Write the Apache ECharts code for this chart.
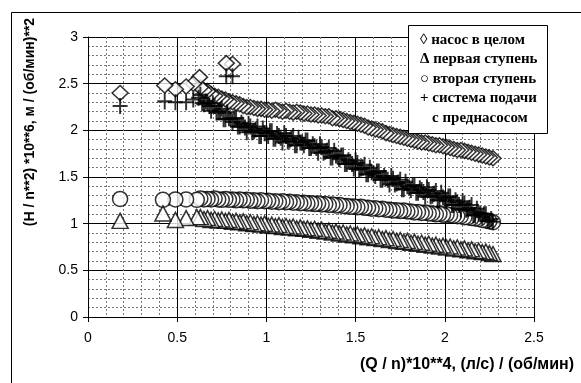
<!DOCTYPE html>
<html>
<head>
<meta charset="utf-8">
<script src="https://cdn.jsdelivr.net/npm/echarts@6/dist/echarts.min.js"></script>
<style>
html, body { margin: 0; padding: 0; background: #fff; }
#chart { width: 581px; height: 383px; }
</style>
</head>
<body>
<div id="chart"></div>
<script>
var myChart = echarts.init(document.getElementById('chart'));

// насос в целом (diamonds)
var pumpTotal = [
    [0.18, 2.40], [0.43, 2.48], [0.49, 2.44], [0.55, 2.47], [0.59, 2.50], [0.625, 2.57],
    [0.775, 2.72], [0.81, 2.71],
    [0.63, 2.46], [0.65, 2.43], [0.67, 2.42], [0.69, 2.39], [0.71, 2.37], [0.73, 2.36],
    [0.75, 2.34], [0.77, 2.33], [0.79, 2.31], [0.81, 2.30], [0.83, 2.29], [0.85, 2.28],
    [0.87, 2.26], [0.89, 2.25], [0.91, 2.25], [0.93, 2.24], [0.95, 2.23], [0.97, 2.23],
    [0.99, 2.22], [1.01, 2.22], [1.03, 2.21], [1.05, 2.22], [1.07, 2.21], [1.09, 2.20],
    [1.11, 2.21], [1.13, 2.20], [1.15, 2.19], [1.17, 2.20], [1.19, 2.19], [1.21, 2.18],
    [1.23, 2.18], [1.25, 2.17], [1.27, 2.17], [1.29, 2.16], [1.31, 2.16], [1.33, 2.15],
    [1.35, 2.15], [1.37, 2.13], [1.39, 2.13], [1.41, 2.12], [1.43, 2.11], [1.45, 2.10],
    [1.47, 2.09], [1.49, 2.08], [1.51, 2.07], [1.53, 2.06], [1.55, 2.05], [1.57, 2.03],
    [1.59, 2.02], [1.61, 2.01], [1.63, 2.00], [1.65, 1.99], [1.67, 1.97], [1.69, 1.96],
    [1.71, 1.95], [1.73, 1.94], [1.75, 1.93], [1.77, 1.92], [1.79, 1.91], [1.81, 1.90],
    [1.83, 1.89], [1.85, 1.88], [1.87, 1.87], [1.89, 1.87], [1.91, 1.86], [1.93, 1.85],
    [1.95, 1.84], [1.97, 1.84], [1.99, 1.83], [2.01, 1.82], [2.03, 1.81], [2.05, 1.80],
    [2.07, 1.79], [2.09, 1.79], [2.11, 1.78], [2.13, 1.77], [2.15, 1.76], [2.17, 1.75],
    [2.19, 1.74], [2.21, 1.73], [2.23, 1.72], [2.25, 1.71], [2.27, 1.70]
];

// первая ступень (triangles)
var firstStage = [
    [0.18, 1.03], [0.42, 1.11], [0.49, 1.04], [0.55, 1.06], [0.61, 1.07],
    [0.63, 1.07], [0.65, 1.05], [0.67, 1.06], [0.69, 1.04], [0.71, 1.05], [0.73, 1.035],
    [0.75, 1.045], [0.77, 1.03], [0.79, 1.04], [0.81, 1.02], [0.83, 1.03], [0.85, 1.015],
    [0.87, 1.025], [0.89, 1.005], [0.91, 1.015], [0.93, 0.995], [0.95, 1.005], [0.97, 0.99],
    [0.99, 1.00], [1.01, 0.98], [1.03, 0.99], [1.05, 0.975], [1.07, 0.985], [1.09, 0.965],
    [1.11, 0.975], [1.13, 0.96], [1.15, 0.97], [1.17, 0.95], [1.19, 0.96], [1.21, 0.945],
    [1.23, 0.95], [1.25, 0.935], [1.27, 0.945], [1.29, 0.925], [1.31, 0.935], [1.33, 0.915],
    [1.35, 0.925], [1.37, 0.905], [1.39, 0.915], [1.41, 0.895], [1.43, 0.905], [1.45, 0.885],
    [1.47, 0.895], [1.49, 0.875], [1.51, 0.885], [1.53, 0.865], [1.55, 0.875], [1.57, 0.855],
    [1.59, 0.865], [1.61, 0.845], [1.63, 0.855], [1.65, 0.835], [1.67, 0.845], [1.69, 0.825],
    [1.71, 0.835], [1.73, 0.815], [1.75, 0.825], [1.77, 0.805], [1.79, 0.815], [1.81, 0.795],
    [1.83, 0.805], [1.85, 0.785], [1.87, 0.795], [1.89, 0.775], [1.91, 0.785], [1.93, 0.765],
    [1.95, 0.775], [1.97, 0.755], [1.99, 0.765], [2.01, 0.745], [2.03, 0.755], [2.05, 0.735],
    [2.07, 0.745], [2.09, 0.725], [2.11, 0.735], [2.13, 0.715], [2.15, 0.725], [2.17, 0.705],
    [2.19, 0.71], [2.21, 0.695], [2.23, 0.70], [2.25, 0.685], [2.27, 0.675]
];

// вторая ступень (circles)
var secondStage = [
    [0.18, 1.265], [0.42, 1.255], [0.49, 1.26], [0.55, 1.26], [0.61, 1.255],
    [0.63, 1.27], [0.65, 1.26], [0.67, 1.265], [0.69, 1.26], [0.71, 1.27], [0.73, 1.26],
    [0.75, 1.255], [0.77, 1.265], [0.79, 1.255], [0.81, 1.26], [0.83, 1.25], [0.85, 1.26],
    [0.87, 1.25], [0.89, 1.255], [0.91, 1.245], [0.93, 1.25], [0.95, 1.24], [0.97, 1.25],
    [0.99, 1.24], [1.01, 1.245], [1.03, 1.235], [1.05, 1.24], [1.07, 1.23], [1.09, 1.24],
    [1.11, 1.23], [1.13, 1.235], [1.15, 1.225], [1.17, 1.23], [1.19, 1.22], [1.21, 1.225],
    [1.23, 1.215], [1.25, 1.22], [1.27, 1.21], [1.29, 1.215], [1.31, 1.205], [1.33, 1.21],
    [1.35, 1.20], [1.37, 1.205], [1.39, 1.195], [1.41, 1.20], [1.43, 1.19], [1.45, 1.19],
    [1.47, 1.18], [1.49, 1.185], [1.51, 1.175], [1.53, 1.18], [1.55, 1.17], [1.57, 1.17],
    [1.59, 1.16], [1.61, 1.165], [1.63, 1.155], [1.65, 1.16], [1.67, 1.15], [1.69, 1.15],
    [1.71, 1.14], [1.73, 1.145], [1.75, 1.135], [1.77, 1.14], [1.79, 1.13], [1.81, 1.13],
    [1.83, 1.12], [1.85, 1.125], [1.87, 1.115], [1.89, 1.12], [1.91, 1.11], [1.93, 1.11],
    [1.95, 1.10], [1.97, 1.105], [1.99, 1.095], [2.01, 1.10], [2.03, 1.09], [2.05, 1.085],
    [2.07, 1.08], [2.09, 1.08], [2.11, 1.07], [2.13, 1.07], [2.15, 1.06], [2.17, 1.055],
    [2.19, 1.05], [2.21, 1.04], [2.23, 1.035], [2.25, 1.025], [2.27, 1.015]
];

// система подачи с преднасосом (plus)
var feedSystem = [
    [0.18, 2.26], [0.43, 2.31], [0.49, 2.30], [0.55, 2.30], [0.59, 2.33], [0.62, 2.35],
    [0.775, 2.58], [0.81, 2.58],
    [0.63, 2.38], [0.65, 2.28], [0.67, 2.29], [0.69, 2.21], [0.71, 2.26], [0.73, 2.20],
    [0.75, 2.23], [0.77, 2.12], [0.79, 2.13], [0.81, 2.09], [0.83, 2.13], [0.85, 2.04],
    [0.87, 2.06], [0.89, 1.98], [0.91, 2.04], [0.93, 1.99], [0.95, 2.04], [0.97, 1.94],
    [0.99, 1.97], [1.01, 1.94], [1.03, 1.99], [1.05, 1.91], [1.07, 1.94], [1.09, 1.87],
    [1.11, 1.94], [1.13, 1.89], [1.15, 1.94], [1.17, 1.84], [1.19, 1.87], [1.21, 1.84],
    [1.23, 1.89], [1.25, 1.81], [1.27, 1.83], [1.29, 1.76], [1.31, 1.82], [1.33, 1.77],
    [1.35, 1.81], [1.37, 1.71], [1.39, 1.73], [1.41, 1.69], [1.43, 1.73], [1.45, 1.64],
    [1.47, 1.66], [1.49, 1.59], [1.51, 1.65], [1.53, 1.59], [1.55, 1.63], [1.57, 1.53],
    [1.59, 1.55], [1.61, 1.51], [1.63, 1.56], [1.65, 1.47], [1.67, 1.49], [1.69, 1.42],
    [1.71, 1.48], [1.73, 1.43], [1.75, 1.47], [1.77, 1.37], [1.79, 1.40], [1.81, 1.36],
    [1.83, 1.41], [1.85, 1.33], [1.87, 1.36], [1.89, 1.29], [1.91, 1.36], [1.93, 1.30],
    [1.95, 1.35], [1.97, 1.25], [1.99, 1.28], [2.01, 1.24], [2.03, 1.29], [2.05, 1.20],
    [2.07, 1.23], [2.09, 1.15], [2.11, 1.21], [2.13, 1.16], [2.15, 1.20], [2.17, 1.09],
    [2.19, 1.11], [2.21, 1.07], [2.23, 1.10], [2.25, 1.03], [2.27, 1.02]
];

// система подачи, промежуточные точки
var feedSystemMid = [
    [0.64, 2.29], [0.66, 2.31], [0.68, 2.26], [0.70, 2.29], [0.72, 2.19], [0.74, 2.21],
    [0.76, 2.12], [0.78, 2.19], [0.80, 2.12], [0.82, 2.13], [0.84, 2.04], [0.86, 2.08],
    [0.88, 2.03], [0.90, 2.07], [0.92, 1.98], [0.94, 2.01], [0.96, 1.94], [0.98, 2.02],
    [1.00, 1.97], [1.02, 1.99], [1.04, 1.91], [1.06, 1.96], [1.08, 1.92], [1.10, 1.97],
    [1.12, 1.88], [1.14, 1.91], [1.16, 1.84], [1.18, 1.92], [1.20, 1.87], [1.22, 1.89],
    [1.24, 1.81], [1.26, 1.85], [1.28, 1.81], [1.30, 1.85], [1.32, 1.76], [1.34, 1.78],
    [1.36, 1.71], [1.38, 1.78], [1.40, 1.72], [1.42, 1.73], [1.44, 1.64], [1.46, 1.68],
    [1.48, 1.64], [1.50, 1.68], [1.52, 1.58], [1.54, 1.60], [1.56, 1.53], [1.58, 1.60],
    [1.60, 1.54], [1.62, 1.56], [1.64, 1.47], [1.66, 1.51], [1.68, 1.47], [1.70, 1.51],
    [1.72, 1.42], [1.74, 1.44], [1.76, 1.37], [1.78, 1.45], [1.80, 1.39], [1.82, 1.41],
    [1.84, 1.33], [1.86, 1.38], [1.88, 1.34], [1.90, 1.39], [1.92, 1.29], [1.94, 1.32],
    [1.96, 1.25], [1.98, 1.33], [2.00, 1.27], [2.02, 1.29], [2.04, 1.20], [2.06, 1.25],
    [2.08, 1.20], [2.10, 1.24], [2.12, 1.15], [2.14, 1.17], [2.16, 1.09], [2.18, 1.16],
    [2.20, 1.10], [2.22, 1.10], [2.24, 1.03], [2.26, 1.05]
];

var legendLines = ['\u25CA насос в целом', '\u0394 первая ступень', '\u25CB вторая ступень', '+ система подачи', 'с преднасосом'];
var xTitle = '(Q / n)*10**4, (л/с) / (об/мин)';
var yTitle = '(H / n**2) *10**6, м / (об/мин)**2';

var plusPath = 'path://M0,4.35L10,4.35L10,5.65L0,5.65Z M4.35,0L5.65,0L5.65,10L4.35,10Z';

var markerStyle = {color: '#fff', borderColor: '#000', borderWidth: 1.5};

// points are drawn from high flow to low flow, so the lower-flow marker sits on top
function drawOrder(points) {
    return points.slice().reverse();
}

var legendGraphics = [{
    type: 'rect',
    shape: {x: 408.5, y: 25.5, width: 139, height: 108},
    style: {fill: '#fff', stroke: '#000', lineWidth: 1},
    z: 100
}];
for (var i = 0; i < legendLines.length; i++) {
    legendGraphics.push({
        type: 'text',
        x: i === 4 ? 432 : 420,
        y: 40 + i * 19.5,
        style: {
            text: legendLines[i],
            font: 'bold 15px "Liberation Serif", serif',
            fill: '#000',
            textVerticalAlign: 'middle'
        },
        z: 101
    });
}

myChart.setOption({
    backgroundColor: '#fff',
    animation: false,
    grid: {left: 88, right: 47, top: 37, bottom: 66},
    xAxis: {
        type: 'value',
        min: 0,
        max: 2.5,
        interval: 0.5,
        axisLine: {onZero: false, lineStyle: {color: '#000', width: 1}},
        axisTick: {show: true, length: 5, lineStyle: {color: '#000'}},
        axisLabel: {color: '#000', fontSize: 14, fontFamily: 'Liberation Sans, Arial', margin: 14},
        splitLine: {show: true, lineStyle: {color: '#000', width: 1}},
        minorTick: {show: false, splitNumber: 5},
        minorSplitLine: {show: true, lineStyle: {color: '#777', width: 1, type: [2, 2]}}
    },
    yAxis: {
        type: 'value',
        min: 0,
        max: 3,
        interval: 0.5,
        axisLine: {show: true, lineStyle: {color: '#000', width: 1}},
        axisTick: {show: true, length: 5, lineStyle: {color: '#000'}},
        axisLabel: {color: '#000', fontSize: 14, fontFamily: 'Liberation Sans, Arial', margin: 10},
        splitLine: {show: true, lineStyle: {color: '#000', width: 1}},
        minorTick: {show: false, splitNumber: 5},
        minorSplitLine: {show: true, lineStyle: {color: '#777', width: 1, type: [2, 2]}}
    },
    series: [
        {
            name: 'вторая ступень',
            type: 'scatter',
            symbol: 'circle',
            symbolSize: 15,
            itemStyle: markerStyle,
            data: drawOrder(secondStage)
        },
        {
            name: 'первая ступень',
            type: 'scatter',
            symbol: 'triangle',
            symbolSize: [16, 15],
            itemStyle: markerStyle,
            data: drawOrder(firstStage)
        },
        {
            name: 'насос в целом',
            type: 'scatter',
            symbol: 'diamond',
            symbolSize: [16, 15],
            itemStyle: markerStyle,
            data: drawOrder(pumpTotal)
        },
        {
            name: 'система подачи с преднасосом',
            type: 'scatter',
            symbol: plusPath,
            symbolSize: [15, 16],
            itemStyle: {color: '#000'},
            data: drawOrder(feedSystem.concat(feedSystemMid))
        }
    ],
    graphic: legendGraphics.concat([
        {
            type: 'rect',
            shape: {x: 11.5, y: 12.5, width: 600, height: 400},
            style: {fill: 'none', stroke: '#000', lineWidth: 1},
            silent: true
        },
        {
            type: 'text',
            x: 574,
            y: 365,
            style: {
                text: xTitle,
                font: 'bold 16px "Liberation Sans", Arial',
                fill: '#000',
                textAlign: 'right',
                textVerticalAlign: 'middle'
            }
        },
        {
            type: 'text',
            x: 30,
            y: 122,
            rotation: Math.PI / 2,
            style: {
                text: yTitle,
                font: 'bold 14px "Liberation Sans", Arial',
                fill: '#000',
                textAlign: 'center',
                textVerticalAlign: 'middle'
            }
        }
    ])
});
</script>
</body>
</html>
